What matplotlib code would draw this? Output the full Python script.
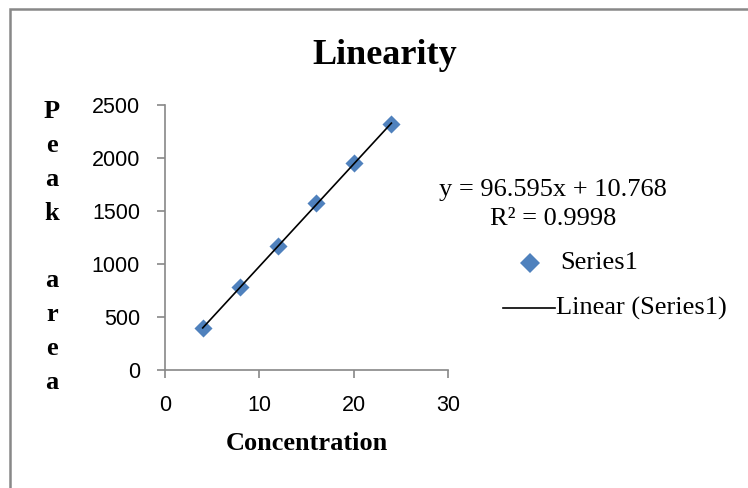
import matplotlib
matplotlib.use("Agg")
import matplotlib.pyplot as plt
from matplotlib.lines import Line2D
import numpy as np

concentration = [4, 8, 12, 16, 20, 24]
peak_area = [392, 785, 1172, 1572, 1950, 2322]
x_ticks = [0, 10, 20, 30]
y_ticks = [0, 500, 1000, 1500, 2000, 2500]
slope, intercept = 96.595, 10.768

serif = "Liberation Serif"
sans = "Liberation Sans"

fig = plt.figure(figsize=(7.48, 4.88), dpi=100)
fig.patch.set_facecolor("white")
# partial outer frame (left and top edges only)
fig.add_artist(Line2D([10/748, 10/748, 1.0], [0.0, 1-9/488, 1-9/488], color="#888888",
                      linewidth=1.8, transform=fig.transFigure, solid_joinstyle="miter"))

ax = fig.add_axes([165/748, 1-370/488, 283/748, 265/488])
ax.scatter(concentration, peak_area, marker="D", s=9.2**2, color="#4F81BD", zorder=2, linewidths=0)
xs = np.array([min(concentration), max(concentration)])
ax.plot(xs, slope*xs + intercept, color="black", linewidth=1.2, zorder=3)

ax.set_xlim(0, 30)
ax.set_ylim(0, 2500)
ax.set_xticks(x_ticks)
ax.set_yticks(y_ticks)
for s in ["top", "right"]:
    ax.spines[s].set_visible(False)
for s in ["left", "bottom"]:
    ax.spines[s].set_color("#888888")
    ax.spines[s].set_linewidth(1.2)
ax.tick_params(axis="both", direction="out", length=6, color="#888888", width=1.2,
               labelsize=15.5, pad=12)
for lab in ax.get_xticklabels() + ax.get_yticklabels():
    lab.set_fontfamily(sans)

fig.text(385/748, 1-55/488, "Linearity", ha="center", va="center",
         fontsize=26, fontweight="bold", fontfamily=serif)
fig.text(307/748, 1-444/488, "Concentration", ha="center", va="center",
         fontsize=19, fontweight="bold", fontfamily=serif)
fig.text(52/748, 1-247/488, "P\ne\na\nk\n\na\nr\ne\na", ha="center", va="center",
         fontsize=19, fontweight="bold", fontfamily=serif, linespacing=1.6)

fig.text(553/748, 1-190/488, f"y = {slope}x + {intercept}", ha="center", va="center",
         fontsize=19, fontfamily=serif)
fig.text(553/748, 1-219/488, "R² = 0.9998", ha="center", va="center",
         fontsize=19, fontfamily=serif)

fig.add_artist(Line2D([530/748], [1-263/488], marker="D", markersize=10.5, color="#4F81BD",
                      markeredgewidth=0, transform=fig.transFigure))
fig.text(560/748, 1-263/488, "Series1", ha="left", va="center", fontsize=19, fontfamily=serif)
fig.add_artist(Line2D([503/748, 555/748], [1-308/488, 1-308/488], color="black", linewidth=1.2,
                      transform=fig.transFigure))
fig.text(556/748, 1-308/488, "Linear (Series1)", ha="left", va="center", fontsize=19, fontfamily=serif)

fig.savefig("out.png", dpi=100)
